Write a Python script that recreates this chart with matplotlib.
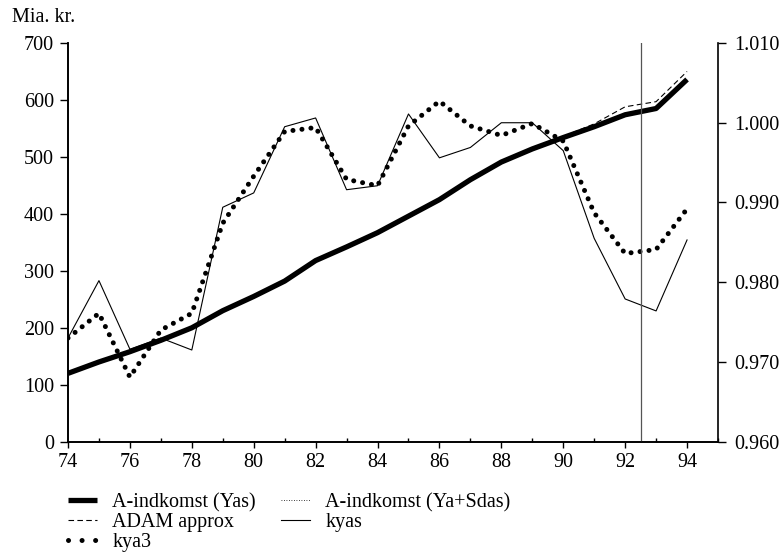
import numpy as np
import matplotlib.pyplot as plt
from matplotlib.lines import Line2D
from matplotlib.ticker import MultipleLocator, FormatStrFormatter

plt.rcParams['font.family'] = ['Liberation Serif', 'DejaVu Serif']
plt.rcParams['font.size'] = 14.5

years = np.arange(74, 95)

# A-indkomst, mia. kr.
yas = [120, 140, 158, 178, 200, 230, 255, 282, 318, 342, 367,
       396, 425, 460, 491, 514, 534, 553, 574, 585, 636]
ya_sdas = [120, 140, 158, 178, 200, 230, 255, 282, 318, 342, 367,
           396, 425, 460, 491, 514, 534, 553, 574, 585, 636]
adam_approx = [120, 140, 158, 178, 200, 230, 255, 282, 318, 342, 367,
               396, 425, 460, 491, 514, 536, 558, 588, 597, 650]

# ratios, right axis
kyas = [0.9730, 0.9802, 0.9716, 0.9730, 0.9715, 0.9894, 0.9912, 0.9995,
        1.0006, 0.9916, 0.9921, 1.0011, 0.9956, 0.9969, 1.0000, 1.0000,
        0.9965, 0.9855, 0.9779, 0.9764, 0.9853]
kya3 = [0.9730, 0.9761, 0.9681, 0.9740, 0.9761, 0.9874, 0.9933, 0.9989,
        0.9994, 0.9929, 0.9921, 0.9996, 1.0027, 0.9996, 0.9984, 0.9999,
        0.9977, 0.9887, 0.9836, 0.9841, 0.9892]

split_year = 92.5

fig = plt.figure(figsize=(7.81, 5.53), dpi=100)
ax1 = fig.add_axes([68 / 781, 1 - 441.7 / 553, 650 / 781, 398.7 / 553])
ax2 = ax1.twinx()

l_adam, = ax1.plot(years, adam_approx, color='black', lw=0.8, ls=(0, (5, 3)), zorder=2)
l_sdas, = ax1.plot(years, ya_sdas, color='black', lw=0.6, ls=(0, (1, 2)), zorder=2)
l_yas, = ax1.plot(years, yas, color='black', lw=3.8, solid_capstyle='butt', zorder=3)

l_kyas, = ax2.plot(years, kyas, color='black', lw=0.8)
ax2.plot(years, kya3, color='black', lw=3.6, ls=(0, (0.01, 1.8)),
         dash_capstyle='round')
ax2.axvline(split_year, color='#555555', lw=0.9)

# legend entry for kya3 with wider dot spacing
l_kya3 = Line2D([], [], color='black', lw=3.6, ls=(0, (0.01, 2.7)),
                dash_capstyle='round')

ax1.set_xlim(74, 95)
ax1.set_ylim(0, 700)
ax2.set_ylim(0.960, 1.010)

ax1.xaxis.set_major_locator(MultipleLocator(2))
ax1.xaxis.set_minor_locator(MultipleLocator(1))
ax1.yaxis.set_major_locator(MultipleLocator(100))
ax2.yaxis.set_major_locator(MultipleLocator(0.01))
ax2.yaxis.set_major_formatter(FormatStrFormatter('%.3f'))

for ax in (ax1, ax2):
    ax.spines['top'].set_visible(False)
    for s in ax.spines.values():
        s.set_linewidth(1.2)
ax1.spines['right'].set_visible(False)
ax1.tick_params(axis='x', which='major', direction='out', length=4, width=1, pad=4)
ax1.tick_params(axis='x', which='minor', direction='in', length=3, width=1)
ax1.tick_params(axis='y', direction='out', length=5.5, width=1, pad=4.5)
ax2.tick_params(axis='y', direction='out', length=5.5, width=1, pad=6.5)

fig.text(12 / 781, 1 - 17 / 553, 'Mia. kr.', ha='left', va='center')

handles = [l_yas, l_adam, l_kya3, l_sdas, l_kyas]
labels = ['A-indkomst (Yas)', 'ADAM approx', 'kya3', 'A-indkomst (Ya+Sdas)', 'kyas']
fig.legend(handles, labels,
           loc='upper left', bbox_to_anchor=(68 / 781, 1 - 493 / 553),
           ncol=2, frameon=False, borderpad=0, borderaxespad=0,
           handlelength=1.45, handletextpad=0.75, columnspacing=1.25,
           labelspacing=0.05)

fig.savefig('out.png', dpi=100)
